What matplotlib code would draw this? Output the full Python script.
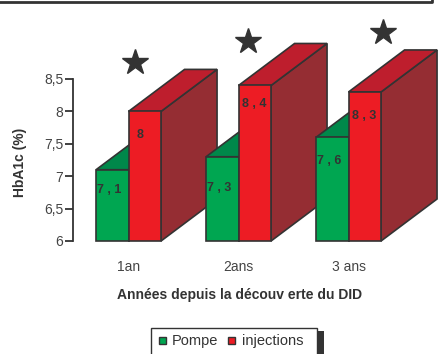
import matplotlib
matplotlib.use("Agg")
import matplotlib.pyplot as plt
from matplotlib.patches import Polygon, Rectangle
from matplotlib.lines import Line2D

plt.rcParams['font.family'] = ['Liberation Sans', 'DejaVu Sans']

# Data
categories = ["1an", "2ans", "3 ans"]
pompe = [7.1, 7.3, 7.6]
injections = [8.0, 8.4, 8.3]
pompe_labels = ["7 , 1", "7 , 3", "7 , 6"]
inj_labels = ["8", "8 , 4", "8 , 3"]
star_x = [1.06, 2.09, 3.31]
star_y = [8.76, 9.09, 9.23]
yticks = [6, 6.5, 7, 7.5, 8, 8.5]
ytick_labels = ["6", "6,5", "7", "7,5", "8", "8,5"]
series_names = ["Pompe", "injections"]

# How far below each bar top its value label sits (in HbA1c units)
pompe_label_drop = [0.31, 0.48, 0.36]
inj_label_drop = [0.36, 0.28, 0.37]

W, H = 442, 354
fig = plt.figure(figsize=(W / 100, H / 100), dpi=100)
ax = fig.add_axes([73 / W, (H - 241) / H, (W - 73) / W, 231 / H])
ax.set_ylim(6, 6 + 231 / 64.8)
ax.set_xlim(0.495, 0.495 + 369 / 110)

EDGE = "#333333"
GREEN_FRONT, GREEN_TOP, GREEN_SIDE = "#00a651", "#00884a", "#006b3a"
RED_FRONT, RED_TOP, RED_SIDE = "#ed1c24", "#be1e2d", "#952d33"
bw = 32.5 / 110          # bar width
dx, dy = 56 / 110, 42 / 64.8   # depth offset
base = 6.0


def box(x0, top, fc_front, fc_top, fc_side, z):
    x1 = x0 + bw
    kw = dict(edgecolor=EDGE, linewidth=1.2, joinstyle='miter', zorder=z, clip_on=False)
    ax.add_patch(Polygon([(x1, base), (x1 + dx, base + dy), (x1 + dx, top + dy), (x1, top)],
                         closed=True, facecolor=fc_side, **kw))
    ax.add_patch(Polygon([(x0, top), (x1, top), (x1 + dx, top + dy), (x0 + dx, top + dy)],
                         closed=True, facecolor=fc_top, **kw))
    ax.add_patch(Polygon([(x0, base), (x1, base), (x1, top), (x0, top)],
                         closed=True, facecolor=fc_front, **kw))


for i, (p, r) in enumerate(zip(pompe, injections)):
    c = i + 1
    z = 2 + i * 3
    box(c - bw, p, GREEN_FRONT, GREEN_TOP, GREEN_SIDE, z)
    box(c, r, RED_FRONT, RED_TOP, RED_SIDE, z + 1)
    ax.text(c - bw + 0.01, p - pompe_label_drop[i], pompe_labels[i], fontsize=9,
            fontweight='bold', color=EDGE, ha='left', va='center', zorder=z + 2)
    ax.text(c + 0.03 if inj_labels[i] != "8" else c + 0.07, r - inj_label_drop[i],
            inj_labels[i], fontsize=9, fontweight='bold', color=EDGE, ha='left',
            va='center', zorder=z + 2)

ax.plot(star_x, star_y, linestyle='none', marker='*', markersize=19, color=EDGE,
        clip_on=False, zorder=20)

# Axes styling
for s in ['top', 'right', 'bottom']:
    ax.spines[s].set_visible(False)
ax.spines['left'].set_bounds(6, 8.5)
ax.spines['left'].set_color(EDGE)
ax.spines['left'].set_linewidth(1.3)
ax.set_yticks(yticks)
ax.set_yticklabels(ytick_labels)
ax.tick_params(axis='y', length=6, width=1.3, color=EDGE, labelcolor="#444444",
               labelsize=10, pad=1)
ax.set_xticks([1, 2, 3])
ax.set_xticklabels(categories)
ax.tick_params(axis='x', length=0, labelcolor="#444444", labelsize=10, pad=14)
ax.patch.set_visible(False)

fig.text(240 / W, 1 - 295 / H, "Années depuis la découv erte du DID", fontsize=10,
         fontweight='bold', color=EDGE, ha='center', va='center')
fig.text(20 / W, 1 - 162 / H, "HbA1c (%)", fontsize=10, fontweight='bold', color=EDGE,
         ha='center', va='center', rotation=90)

# Frame line at the top
fig.add_artist(Line2D([0, 432 / W, 432 / W], [1 - 1.5 / H, 1 - 1.5 / H, 1.0],
                      color=EDGE, linewidth=2, transform=fig.transFigure))


# Legend box (runs past the lower edge), with a dark shadow on the right
def fx(px):
    return px / W


def fy(py):
    return 1 - py / H


tf = fig.transFigure
fig.add_artist(Rectangle((fx(317), fy(360)), fx(7), (360 - 331) / H, transform=tf,
                         facecolor=EDGE, edgecolor='none'))
fig.add_artist(Rectangle((fx(151), fy(360)), fx(166), (360 - 328) / H, transform=tf,
                         facecolor='white', edgecolor=EDGE, linewidth=1))
legend_items = [(159, 172, GREEN_FRONT), (228, 242, RED_FRONT)]
for (mx, tx, col), name in zip(legend_items, series_names):
    fig.add_artist(Rectangle((fx(mx), fy(344)), fx(7), 7 / H, transform=tf,
                             facecolor=col, edgecolor=EDGE, linewidth=1))
    fig.text(fx(tx), fy(341), name, fontsize=10.5, color=EDGE, ha='left', va='center')

fig.savefig("out.png", dpi=100)
